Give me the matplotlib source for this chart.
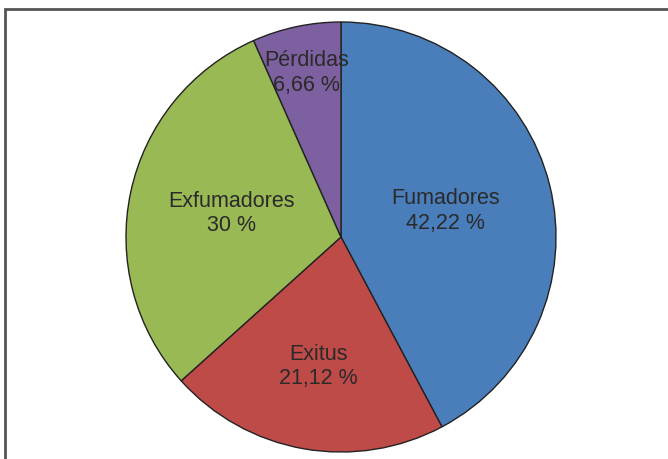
import matplotlib
matplotlib.use("Agg")
import matplotlib.pyplot as plt
import numpy as np
from matplotlib.patches import Rectangle

categories = ["Fumadores", "Exitus", "Exfumadores", "Pérdidas"]
values = [42.22, 21.12, 30.0, 6.66]
value_labels = ["42,22 %", "21,12 %", "30 %", "6,66 %"]
colors = ["#4A7EBB", "#BE4B48", "#98B954", "#7D60A0"]
label_dist = [0.50, 0.61, 0.52, 0.78]

plt.rcParams['font.family'] = ['Liberation Sans', 'DejaVu Sans']

W, H = 668, 459
fig = plt.figure(figsize=(W / 100, H / 100), dpi=100)
fig.patch.set_facecolor("white")

# frame
fig.patches.append(Rectangle((5 / W, -0.1), 1.2, (H - 9) / H + 0.1, transform=fig.transFigure,
                             fill=False, edgecolor="#555555", linewidth=2.0))

cx, cy, R = 341, 237, 215
ax = fig.add_axes([(cx - R) / W, (H - cy - R) / H, 2 * R / W, 2 * R / H])
wedges, _ = ax.pie(values, colors=colors, startangle=90, counterclock=False,
                   radius=1.0, wedgeprops=dict(edgecolor="#222222", linewidth=1.0))
ax.set_xlim(-1, 1)
ax.set_ylim(-1, 1)
ax.set_aspect("equal")
ax.axis("off")

for w, cat, vl, d in zip(wedges, categories, value_labels, label_dist):
    ang = np.deg2rad((w.theta1 + w.theta2) / 2)
    x, y = d * np.cos(ang), d * np.sin(ang)
    ax.text(x, y, cat + "\n" + vl, ha="center", va="center", fontsize=15.5,
            color="#2a2a2a", linespacing=1.2)

fig.savefig("out.png", dpi=100)
